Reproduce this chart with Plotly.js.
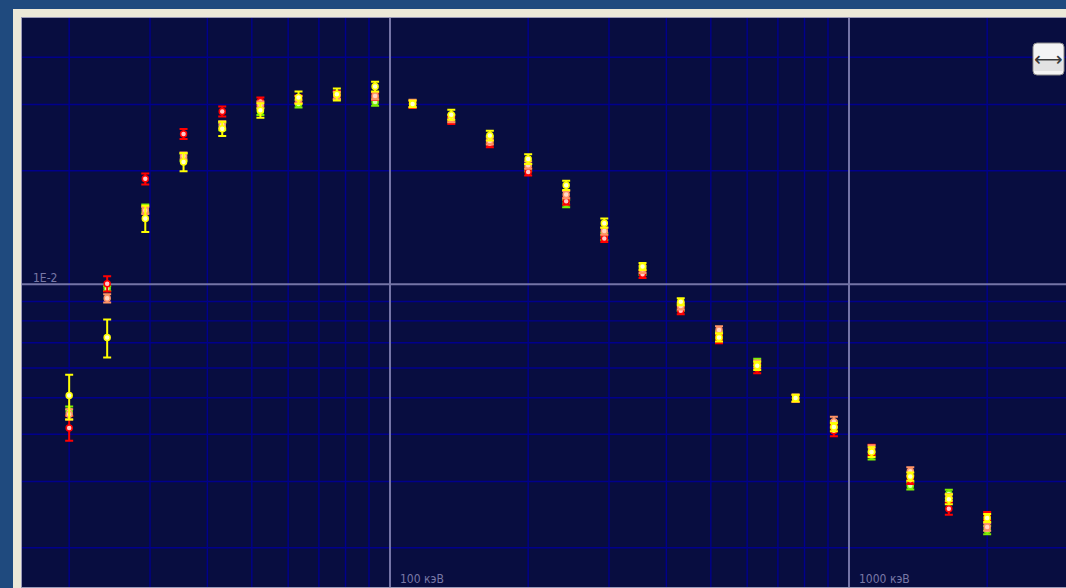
<!DOCTYPE html>
<html>
<head>
<meta charset="utf-8">
<script src="https://cdn.plot.ly/plotly-3.0.1.min.js"></script>
<style>
  html, body { margin: 0; padding: 0; background: #ece9d8; }
  #chart { width: 1066px; height: 588px; }
</style>
</head>
<body>
<div id="chart"></div>
<script>
// Photon energy, keV (12 points per decade)
const energy = [20, 24.2, 29.3, 35.5, 43.1, 52.2, 63.2, 76.6, 92.8, 112, 136, 165, 200,
                242, 293, 355, 430, 521, 631, 765, 927, 1120, 1360, 1650, 2000];

// Measured values for the four detector channels
const redVals = [0.00416, 0.01004, 0.01904, 0.02505, 0.02874, 0.03054, 0.0310, 0.0318, 0.0315,
                 0.0300, 0.0272, 0.0236, 0.01987, 0.01661, 0.01323, 0.01063, 0.00851, 0.00715,
                 0.00598, 0.00498, 0.00409, 0.00364, 0.00302, 0.00254, 0.00243];
const redErrPct = [7.6, 4.7, 3.4, 3.1, 3.1, 2.5, 2.2, 2.2, 2.2, 2.2, 2.2, 2.2, 2.2,
                   2.2, 2.2, 2.2, 2.2, 2.5, 2.8, 2.2, 3.4, 3.1, 2.2, 3.7, 2.5];

const yellowVals = [0.00507, 0.00723, 0.01495, 0.02112, 0.02587, 0.02895, 0.0313, 0.0319, 0.03345,
                    0.0301, 0.02818, 0.0248, 0.0215, 0.0183, 0.01453, 0.01115, 0.00899, 0.00723,
                    0.00608, 0.00499, 0.00418, 0.00359, 0.00309, 0.00269, 0.0024];
const yellowErrPct = [13.6, 11.5, 8, 5.6, 4.4, 4.4, 3.7, 3.7, 3, 2, 3, 3, 3,
                      2.8, 2.8, 2.2, 2.2, 2.5, 2.5, 2, 2.5, 3, 2.5, 3, 2.5];

const salmonVals = [0.00452, 0.00918, 0.0157, 0.0219, 0.0265, 0.0299, 0.0309, 0.0317, 0.0316,
                    0.0302, 0.0275, 0.0240, 0.0207, 0.0173, 0.01384, 0.01096, 0.00876, 0.00757,
                    0.00614, 0.00499, 0.00432, 0.00366, 0.00319, 0.00272, 0.00227];
const salmonErrPct = [3.1, 2.5, 2.2, 2.2, 2.2, 2.2, 2.2, 2.2, 2.2, 2.2, 2.2, 2.2, 2.2,
                      2.2, 2.2, 2.2, 2.2, 2.2, 2.2, 2.2, 3.1, 2.2, 2.5, 2.2, 2.2];

const greenVals = [0.00461, 0.00974, 0.01589, 0.0217, 0.0262, 0.02877, 0.0301, 0.0316, 0.03045,
                   0.0301, 0.0276, 0.0242, 0.0204, 0.01638, 0.0134, 0.01082, 0.00869, 0.00733,
                   0.00622, 0.00498, 0.00424, 0.00352, 0.00292, 0.00278, 0.00223];
const greenErrPct = [2.8, 1.5, 2.5, 2.2, 2.2, 2.2, 2.2, 2.2, 2.2, 2.2, 2.2, 2.2, 2.2,
                     2.2, 2.2, 2.2, 2.2, 2.2, 2.0, 2.2, 2.2, 2.5, 2.2, 2.5, 2.5];

// Axis labels and grid positions
const xTickVals = [100, 1000];
const xTickText = ['100 кэВ', '1000 кэВ'];
const yTickVals = [0.01];
const yTickText = ['1E-2'];
const xMinor = [20, 30, 40, 50, 60, 70, 80, 90, 200, 300, 400, 500, 600, 700, 800, 900, 2000];
const yMinor = [0.002, 0.003, 0.004, 0.005, 0.006, 0.007, 0.008, 0.009, 0.02, 0.03, 0.04];

function series(vals, errPct, edge, core) {
  return {
    type: 'scatter',
    mode: 'markers',
    x: energy,
    y: vals,
    marker: { symbol: 'circle', size: 6, color: core, line: { color: edge, width: 1.5 } },
    error_y: {
      type: 'data',
      array: vals.map((v, i) => v * errPct[i] / 100),
      color: edge,
      thickness: 2,
      width: 4
    },
    hoverinfo: 'x+y'
  };
}

const traces = [
  series(greenVals, greenErrPct, '#7cf000', '#d8ffb0'),
  series(redVals, redErrPct, '#ff0000', '#ffc8c8'),
  series(salmonVals, salmonErrPct, '#ff9466', '#ffd8c4'),
  series(yellowVals, yellowErrPct, '#ffff00', '#ffffd0')
];

// Plot frame geometry (px)
const W = 1066, H = 588;
const mL = 22, mT = 18, mR = 0, mB = 1;
const pw = W - mL - mR, ph = H - mT - mB;
const px = v => (v - mL) / pw;
const py = v => (H - mB - v) / ph;

const xRange = [2 - (390 - mL) / 459, 3 + (W - 849) / 459];
const yRange = [-2 - (H - mB - 284.3) / 377, -2 + (284.3 - mT) / 377];

const labelFont = { family: 'DejaVu Sans Condensed, Liberation Sans, Arial, sans-serif', size: 12, color: '#7878a6' };

const annotations = [];
xTickVals.forEach((v, i) => annotations.push({
  xref: 'x', yref: 'paper', x: Math.log10(v), y: 0,
  xanchor: 'left', yanchor: 'bottom', xshift: 9, yshift: 0,
  text: xTickText[i], showarrow: false, font: labelFont, borderpad: 0
}));
yTickVals.forEach((v, i) => annotations.push({
  xref: 'paper', yref: 'y', x: 0, y: Math.log10(v),
  xanchor: 'left', yanchor: 'bottom', xshift: 10, yshift: -2,
  text: yTickText[i], showarrow: false, font: labelFont, borderpad: 0
}));

// Scale toggle button in the top-right corner
const bx0 = 1033, bx1 = 1064, by0 = 43, by1 = 75, br = 4;
const rx = br / pw, ry = br / ph;
const X0 = px(bx0), X1 = px(bx1), Yt = py(by0), Yb = py(by1);
const btnPath = `M ${X0 + rx} ${Yt} L ${X1 - rx} ${Yt} Q ${X1} ${Yt} ${X1} ${Yt - ry} ` +
  `L ${X1} ${Yb + ry} Q ${X1} ${Yb} ${X1 - rx} ${Yb} L ${X0 + rx} ${Yb} Q ${X0} ${Yb} ${X0} ${Yb + ry} ` +
  `L ${X0} ${Yt - ry} Q ${X0} ${Yt} ${X0 + rx} ${Yt} Z`;
annotations.push({
  xref: 'paper', yref: 'paper', x: px((bx0 + bx1) / 2), y: py((by0 + by1) / 2),
  xanchor: 'center', yanchor: 'middle', text: '⟷', showarrow: false,
  font: { family: 'DejaVu Sans', size: 20, color: '#3a3a3a' }
});

// Grid: thin dark-blue lines at 2..9 of each decade, brighter lines at the labelled decades.
// Shape positions on log axes are given as data values.
const shapes = [];
const vLine = (v, color, width) => ({
  type: 'line', xref: 'x', yref: 'paper', x0: v, x1: v, y0: 0, y1: 1,
  line: { color: color, width: width }, layer: 'below'
});
const hLine = (v, color, width) => ({
  type: 'line', xref: 'paper', yref: 'y', x0: 0, x1: 1, y0: v, y1: v,
  line: { color: color, width: width }, layer: 'below'
});
xMinor.forEach(v => shapes.push(vLine(v, '#00008c', 1.4)));
yMinor.forEach(v => shapes.push(hLine(v, '#00008c', 1.4)));
xTickVals.forEach(v => shapes.push(vLine(v, '#7474a6', 2)));
yTickVals.forEach(v => shapes.push(hLine(v, '#7474a6', 2)));

shapes.push(
  // dark blue window strips around the cream frame
  { type: 'rect', xref: 'paper', yref: 'paper', x0: -0.05, x1: 1.05, y0: py(9), y1: py(-10),
    fillcolor: '#1f4a7e', line: { width: 0 }, layer: 'above' },
  { type: 'rect', xref: 'paper', yref: 'paper', x0: px(-10), x1: px(13), y0: -0.05, y1: 1.1,
    fillcolor: '#1f4a7e', line: { width: 0 }, layer: 'above' },
  // button body; lower half a touch darker
  { type: 'path', xref: 'paper', yref: 'paper', path: btnPath,
    fillcolor: '#f4f4f4', line: { color: '#8a8a8a', width: 1 }, layer: 'above' },
  { type: 'rect', xref: 'paper', yref: 'paper', x0: X0 + 0.0012, x1: X1 - 0.0012,
    y0: Yb + ry, y1: py((by0 + by1) / 2 + 2),
    fillcolor: '#e2e2e2', line: { width: 0 }, layer: 'above' }
);

const axis = range => ({
  type: 'log', range: range,
  showticklabels: false, ticks: '', showgrid: false,
  showline: true, mirror: true, linecolor: '#9a9ab8', linewidth: 1,
  zeroline: false, fixedrange: true
});

const layout = {
  width: W, height: H,
  margin: { l: mL, r: mR, t: mT, b: mB, pad: 0 },
  paper_bgcolor: '#ece9d8',
  plot_bgcolor: '#080d40',
  showlegend: false,
  xaxis: axis(xRange),
  yaxis: axis(yRange),
  annotations: annotations,
  shapes: shapes
};

Plotly.newPlot('chart', traces, layout, { displayModeBar: false, staticPlot: true });
</script>
</body>
</html>
